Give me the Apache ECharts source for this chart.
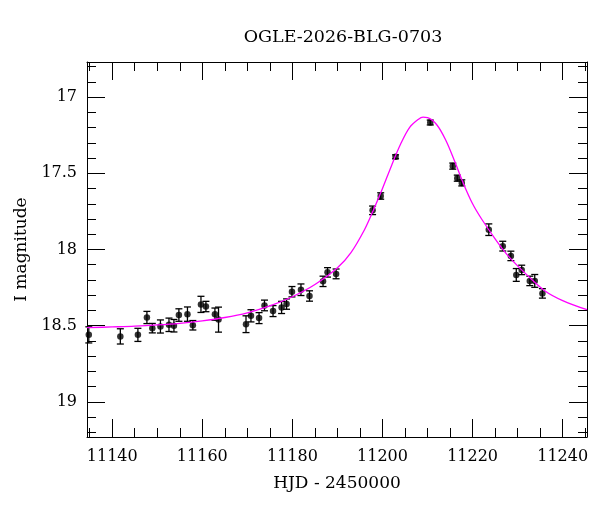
<!DOCTYPE html>
<html>
<head>
<meta charset="utf-8">
<title>OGLE-2026-BLG-0703</title>
<script src="https://cdn.jsdelivr.net/npm/echarts@6/dist/echarts.min.js"></script>
<style>
    html, body { margin: 0; padding: 0; background: #fff; }
    #lightcurve { width: 600px; height: 512px; }
</style>
</head>
<body>
<div id="lightcurve"></div>
<script>
// ------------------------------
// Photometry (HJD - 2450000, I mag, error)
// ------------------------------
var hjd = [11134.8, 11141.8, 11145.7, 11147.7, 11148.9, 11150.7, 11152.6, 11153.7, 11154.8, 11156.7,
    11157.9, 11159.7, 11160.8, 11162.8, 11163.6, 11169.7, 11170.8, 11172.6, 11173.8, 11175.7,
    11177.6, 11178.7, 11179.9, 11181.9, 11183.8, 11186.8, 11187.8, 11189.7, 11197.8, 11199.6,
    11202.9, 11210.6, 11215.6, 11216.6, 11217.6, 11223.6, 11226.7, 11228.5, 11229.7, 11230.9,
    11232.7, 11233.8, 11235.5];
var imag = [18.56, 18.57, 18.56, 18.446, 18.516, 18.505, 18.494, 18.50, 18.43, 18.424,
    18.497, 18.36, 18.374, 18.424, 18.46, 18.49, 18.435, 18.45, 18.367, 18.404,
    18.38, 18.358, 18.277, 18.264, 18.305, 18.209, 18.15, 18.16, 17.743, 17.649,
    17.392, 17.167, 17.453, 17.532, 17.563, 17.87, 17.978, 18.042, 18.167, 18.134,
    18.206, 18.206, 18.288];
var ierr = [0.053, 0.05, 0.043, 0.04, 0.031, 0.043, 0.044, 0.041, 0.041, 0.047,
    0.031, 0.053, 0.034, 0.04, 0.082, 0.055, 0.04, 0.036, 0.035, 0.036,
    0.04, 0.034, 0.034, 0.038, 0.034, 0.034, 0.031, 0.032, 0.028, 0.021,
    0.013, 0.016, 0.02, 0.02, 0.02, 0.038, 0.032, 0.031, 0.042, 0.031,
    0.031, 0.042, 0.031];

// model curve
var modelHjd = [11134.4, 11140, 11145, 11150, 11155, 11160, 11165, 11170, 11175, 11180,
    11185, 11190, 11193, 11196, 11198, 11200, 11202, 11204, 11206, 11208,
    11209, 11210, 11212, 11214, 11216, 11218, 11220, 11222, 11225, 11228,
    11232, 11236, 11240, 11245.4];
var modelMag = [18.513, 18.508, 18.503, 18.495, 18.484, 18.468, 18.446, 18.415, 18.37, 18.31,
    18.23, 18.12, 18.02, 17.87, 17.74, 17.60, 17.45, 17.31, 17.20, 17.145,
    17.132, 17.135, 17.18, 17.28, 17.42, 17.57, 17.70, 17.80, 17.93, 18.045,
    18.165, 18.27, 18.335, 18.395];

// ticks
var xMajorTicks = [11140, 11160, 11180, 11200, 11220, 11240];
var xMinorTicks = [11135, 11145, 11150, 11155, 11165, 11170, 11175, 11185, 11190, 11195,
    11205, 11210, 11215, 11225, 11230, 11235, 11245];
var yMajorTicks = [17, 17.5, 18, 18.5, 19];
var yMinorTicks = [16.8, 16.9, 17.1, 17.2, 17.3, 17.4, 17.6, 17.7, 17.8, 17.9,
    18.1, 18.2, 18.3, 18.4, 18.6, 18.7, 18.8, 18.9, 19.1, 19.2];

var xRange = [11134.4, 11245.4];
var yRange = [16.77, 19.23];

var chart = echarts.init(document.getElementById('lightcurve'));

var serif = 'DejaVu Serif';

// plain numbers, no thousands separator
function plain(v) { return String(v); }

// one axis builder, used for the frame sides and the tick sets
function xAx(pos, ticks, len, labels, line) {
    return {
        type: 'value', position: pos, min: xRange[0], max: xRange[1],
        axisLine: { show: line, onZero: false, lineStyle: { color: '#000', width: 1 } },
        axisTick: { show: true, inside: true, length: len, customValues: ticks,
            lineStyle: { color: '#000', width: 1 } },
        axisLabel: { show: labels, customValues: ticks, margin: 12, color: '#000',
            fontFamily: serif, fontSize: 16, formatter: plain },
        splitLine: { show: false }
    };
}
function yAx(pos, ticks, len, labels, line) {
    return {
        type: 'value', position: pos, inverse: true, min: yRange[0], max: yRange[1],
        axisLine: { show: line, onZero: false, lineStyle: { color: '#000', width: 1 } },
        axisTick: { show: true, inside: true, length: len, customValues: ticks,
            lineStyle: { color: '#000', width: 1 } },
        axisLabel: { show: labels, customValues: ticks, margin: 10, color: '#000',
            fontFamily: serif, fontSize: 16, formatter: plain },
        splitLine: { show: false }
    };
}

var xBottom = xAx('bottom', xMajorTicks, 18, true, true);
xBottom.name = 'HJD - 2450000';
xBottom.nameLocation = 'middle';
xBottom.nameGap = 38;
xBottom.nameTextStyle = { color: '#000', fontFamily: serif, fontSize: 17 };

var yLeft = yAx('left', yMajorTicks, 18, true, true);
yLeft.name = 'I magnitude';
yLeft.nameLocation = 'middle';
yLeft.nameGap = 56;
yLeft.nameTextStyle = { color: '#000', fontFamily: serif, fontSize: 17 };

var points = hjd.map(function (t, i) { return [t, imag[i]]; });
var bars = hjd.map(function (t, i) { return [t, imag[i], ierr[i]]; });
var model = modelHjd.map(function (t, i) { return [t, modelMag[i]]; });

var option = {
    animation: false,
    backgroundColor: '#fff',
    title: {
        text: 'OGLE-2026-BLG-0703',
        left: 338, top: 23, textAlign: 'center',
        textStyle: { color: '#000', fontFamily: serif, fontSize: 17.5, fontWeight: 'normal' }
    },
    grid: { left: 87, right: 13, top: 62, bottom: 75 },
    xAxis: [
        xBottom,
        xAx('bottom', xMinorTicks, 9, false, false),
        xAx('top', xMajorTicks, 18, false, true),
        xAx('top', xMinorTicks, 9, false, false)
    ],
    yAxis: [
        yLeft,
        yAx('left', yMinorTicks, 9, false, false),
        yAx('right', yMajorTicks, 18, false, true),
        yAx('right', yMinorTicks, 9, false, false)
    ],
    series: [
        {
            name: 'model',
            type: 'line',
            data: model,
            smooth: 0.35,
            showSymbol: false,
            clip: true,
            lineStyle: { color: '#ff00ff', width: 1.3 }
        },
        {
            name: 'errors',
            type: 'custom',
            data: bars,
            renderItem: function (params, api) {
                var t = api.value(0), m = api.value(1), e = api.value(2);
                var lo = api.coord([t, m - e]);
                var hi = api.coord([t, m + e]);
                var cap = 3.5;
                var style = { stroke: '#000', lineWidth: 1.3 };
                return {
                    type: 'group',
                    children: [
                        { type: 'line', shape: { x1: lo[0], y1: lo[1], x2: hi[0], y2: hi[1] }, style: style },
                        { type: 'line', shape: { x1: lo[0] - cap, y1: lo[1], x2: lo[0] + cap, y2: lo[1] }, style: style },
                        { type: 'line', shape: { x1: hi[0] - cap, y1: hi[1], x2: hi[0] + cap, y2: hi[1] }, style: style }
                    ]
                };
            }
        },
        {
            name: 'data',
            type: 'scatter',
            data: points,
            symbol: 'circle',
            symbolSize: 6.5,
            itemStyle: { color: '#000' }
        }
    ]
};

chart.setOption(option);
</script>
</body>
</html>
